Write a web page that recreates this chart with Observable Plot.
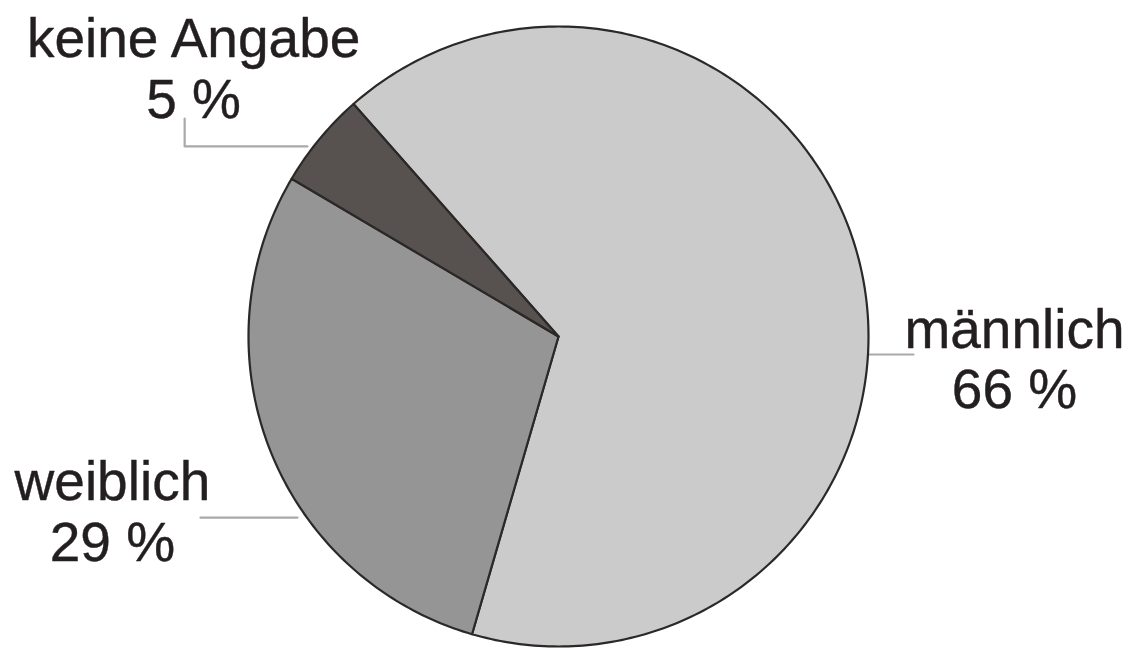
<!DOCTYPE html>
<html>
<head>
<meta charset="utf-8">
<script src="https://cdn.jsdelivr.net/npm/d3@7"></script>
<script src="https://cdn.jsdelivr.net/npm/@observablehq/plot@0.6"></script>
<style>
  html, body { margin: 0; padding: 0; background: #fff; }
  #chart svg { display: block; }
</style>
</head>
<body>
<div id="chart"></div>
<script>
// Data
const categories = ["männlich", "weiblich", "keine Angabe"];
const percents = [66, 29, 5];
const labelTexts = ["männlich\n66 %", "weiblich\n29 %", "keine Angabe\n5 %"];
const sliceColors = ["#cbcbcb", "#959595", "#575250"];

// Layout (unit-circle coordinates, pie radius = 1)
const startAngleDeg = -41.4;         // bearing of first slice start, clockwise from north
const labelX = [1.471, -1.439, -1.177];
const labelY = [-0.232, -0.723, 0.706];
const leaderX = [[1.0, 1.145], [-1.155, -0.842], [-1.206, -1.206, -0.81]];
const leaderY = [[-0.058, -0.058], [-0.584, -0.584], [0.703, 0.613, 0.613]];

// Build slice polygons from values
const total = d3.sum(percents);
const slicePts = [];
let a0 = startAngleDeg * Math.PI / 180;
categories.forEach((name, i) => {
  const span = percents[i] / total * 2 * Math.PI;
  const steps = Math.max(8, Math.ceil(percents[i] * 4));
  slicePts.push({name, x: 0, y: 0});
  for (let k = 0; k <= steps; k++) {
    const a = a0 + span * k / steps;
    slicePts.push({name, x: Math.sin(a), y: Math.cos(a)});
  }
  slicePts.push({name, x: 0, y: 0});
  a0 += span;
});

const labels = categories.map((name, i) => ({name, text: labelTexts[i], x: labelX[i], y: labelY[i]}));
const leaders = [];
categories.forEach((name, i) => {
  leaderX[i].forEach((x, k) => leaders.push({name, x, y: leaderY[i][k]}));
});

const W = 1132, H = 648, R = 310, CX = 558, CY = 336;

const chart = Plot.plot({
  width: W,
  height: H,
  margin: 0,
  x: {domain: [-CX / R, (W - CX) / R], axis: null},
  y: {domain: [-(H - CY) / R, CY / R], axis: null},
  color: {domain: categories, range: sliceColors},
  style: {background: "#fff"},
  marks: [
    Plot.line(leaders, {x: "x", y: "y", z: "name", stroke: "#a9a9a9", strokeWidth: 2.2}),
    Plot.line(slicePts, {x: "x", y: "y", z: "name", fill: "name", stroke: "#2b2827", strokeWidth: 2.2, strokeLinejoin: "round", curve: "linear"}),
    Plot.text(labels, {
      x: "x", y: "y", text: "text",
      textAnchor: "middle", lineAnchor: "bottom", lineHeight: 1.1,
      fontSize: 55, fontFamily: "'Liberation Sans', Arial, Helvetica, sans-serif",
      fill: "#231f20", stroke: "#231f20", strokeWidth: 0.4
    })
  ]
});
document.getElementById("chart").appendChild(chart);
</script>
</body>
</html>
